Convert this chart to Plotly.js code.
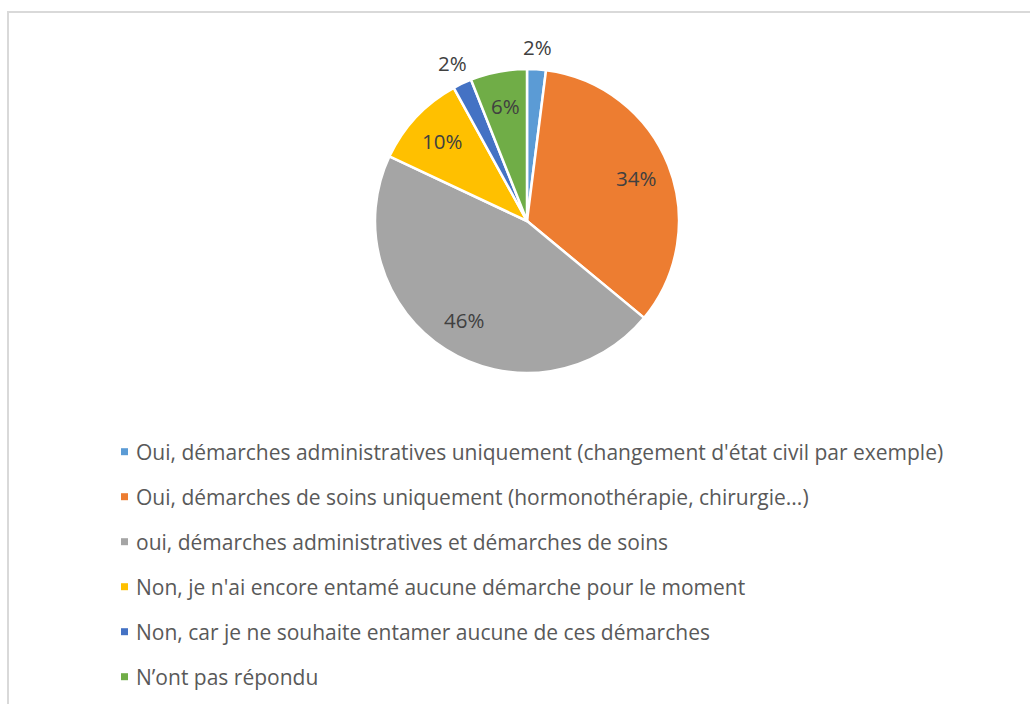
<!DOCTYPE html>
<html>
<head>
<meta charset="utf-8">
<script src="https://cdn.plot.ly/plotly-3.0.1.min.js"></script>
<style>
  html, body { margin: 0; padding: 0; background: #ffffff; }
  #chart { width: 1030px; height: 704px; }
</style>
</head>
<body>
<div id="chart"></div>
<script>
// ---- Data ----
const categories = [
  "Oui, démarches administratives uniquement (changement d'état civil par exemple)",
  "Oui, démarches de soins uniquement (hormonothérapie, chirurgie...)",
  "oui, démarches administratives et démarches de soins",
  "Non, je n'ai encore entamé aucune démarche pour le moment",
  "Non, car je ne souhaite entamer aucune de ces démarches",
  "N’ont pas répondu"
];
const values = [2, 34, 46, 10, 2, 6];
const colors = ["#5B9BD5", "#ED7D31", "#A5A5A5", "#FFC000", "#4472C4", "#70AD47"];
const labelOutside = [true, false, false, false, true, false];

// ---- Layout helpers ----
const W = 1030, H = 704;
const px = x => x / W;
const py = y => 1 - y / H;
const FONT = "'Open Sans', 'Noto Sans', sans-serif";

const cx = 527, cy = 221, r = 152;

const trace = {
  type: "pie",
  labels: categories,
  values: values,
  sort: false,
  direction: "clockwise",
  rotation: 0,
  marker: { colors: colors, line: { color: "#ffffff", width: 2.5 } },
  textinfo: "none",
  automargin: false,
  domain: { x: [px(cx - r), px(cx + r)], y: [py(cy + r), py(cy - r)] },
  hoverinfo: "label+percent",
  showlegend: false
};

const annotations = [];
const shapes = [];

// Data labels placed at each slice's mid-angle (computed from values)
const total = values.reduce((a, b) => a + b, 0);
let cum = 0;
values.forEach((v, i) => {
  const mid = (cum + v / 2) / total * 2 * Math.PI;
  cum += v;
  const rr = r * (labelOutside[i] ? 1.15 : 0.77);
  const x = cx + rr * Math.sin(mid);
  const y = cy - rr * Math.cos(mid);
  annotations.push({
    xref: "paper", yref: "paper",
    x: px(x), y: py(y),
    xanchor: "center", yanchor: "middle",
    text: Math.round(v / total * 100) + "%",
    showarrow: false,
    font: { family: FONT, size: 20.5, color: "#404040" }
  });
});

// Legend built from the data arrays
const legendTop = 451.7, legendStep = 45;
categories.forEach((c, i) => {
  const y = legendTop + i * legendStep;
  annotations.push({
    xref: "paper", yref: "paper",
    x: px(134), y: py(y),
    xanchor: "left", yanchor: "middle",
    text: c, showarrow: false,
    font: { family: FONT, size: 21, color: "#595959" }
  });
  shapes.push({
    type: "rect", xref: "paper", yref: "paper",
    x0: px(121), x1: px(128), y0: py(y + 3.5), y1: py(y - 3.5),
    fillcolor: colors[i], line: { width: 0 }
  });
});
// chart area border
shapes.push({
  type: "rect", xref: "paper", yref: "paper",
  x0: px(8), x1: px(1040), y0: py(714), y1: py(12),
  fillcolor: "rgba(0,0,0,0)", line: { color: "#d9d9d9", width: 2 }
});

const layout = {
  width: W, height: H,
  margin: { l: 0, r: 0, t: 0, b: 0 },
  paper_bgcolor: "#ffffff",
  showlegend: false,
  annotations: annotations,
  shapes: shapes
};

Plotly.newPlot("chart", [trace], layout, { displayModeBar: false });
</script>
</body>
</html>
